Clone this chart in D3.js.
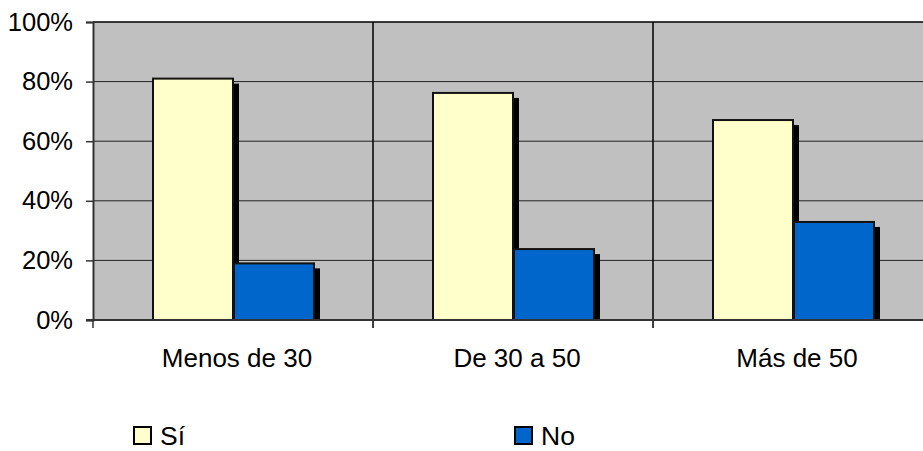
<!DOCTYPE html>
<html><head><meta charset="utf-8">
<script src="https://cdn.jsdelivr.net/npm/d3@7"></script>
<style>body{margin:0;background:#fff}svg{display:block}text{font-family:"Liberation Sans",Arial,sans-serif}</style>
</head><body>
<svg id="c" width="923" height="451"></svg>
<script>
const categories = ["Menos de 30", "De 30 a 50", "Más de 50"];
const seriesNames = ["Sí", "No"];
const siValues = [81, 76.2, 67.1];
const noValues = [19, 23.8, 32.9];
const yTicks = [0, 20, 40, 60, 80, 100];
const colors = ["#FFFFCC", "#0066CC"];

const svg = d3.select("#c");
const m = {l: 93, t: 22, r: 933, b: 320};
const x = d3.scaleBand().domain(categories).range([m.l, m.r]).paddingInner(0).paddingOuter(0);
const y = d3.scaleLinear().domain([0, 100]).range([m.b, m.t]);

// plot background
svg.append("rect").attr("x", m.l).attr("y", m.t).attr("width", m.r - m.l).attr("height", m.b - m.t).attr("fill", "#C0C0C0");

// horizontal gridlines
svg.append("g").selectAll("line").data(yTicks.filter(d => d > 0)).join("line")
  .attr("x1", m.l).attr("x2", m.r).attr("y1", d => y(d)).attr("y2", d => y(d))
  .attr("stroke", d => d === 100 ? "#000" : "#222").attr("stroke-width", d => d === 100 ? 1.5 : 1);

// vertical category gridlines
svg.append("g").selectAll("line").data(categories.slice(1)).join("line")
  .attr("x1", d => x(d)).attr("x2", d => x(d)).attr("y1", m.t).attr("y2", m.b + 8)
  .attr("stroke", "#000").attr("stroke-width", 1.5);

const data = categories.map((c, i) => [
  {cat: c, s: seriesNames[0], v: siValues[i], col: colors[0]},
  {cat: c, s: seriesNames[1], v: noValues[i], col: colors[1]}
]).flat();

const bw = 80;
const bx = d => x(d.cat) + 60 + (d.s === seriesNames[0] ? 0 : bw + 1);

// shadows
svg.append("g").selectAll("rect").data(data).join("rect")
  .attr("x", d => bx(d) + 6).attr("y", d => y(d.v) + 5)
  .attr("width", bw).attr("height", d => m.b - y(d.v) - 5)
  .attr("fill", "#000");

// bars
svg.append("g").selectAll("rect").data(data).join("rect")
  .attr("x", d => bx(d)).attr("y", d => y(d.v))
  .attr("width", bw).attr("height", d => m.b - y(d.v))
  .attr("fill", d => d.col).attr("stroke", "#111").attr("stroke-width", 2);

// axes
const yAxis = d3.axisLeft(y).tickValues(yTicks).tickFormat(d => d + "%").tickSize(7).tickPadding(13);
const gy = svg.append("g").attr("transform", `translate(${m.l},0)`).call(yAxis);
gy.select(".domain").attr("stroke", "#333").attr("stroke-width", 2);
gy.selectAll(".tick line").attr("stroke", "#333").attr("stroke-width", 1.5);
gy.selectAll("text").attr("font-size", 25.5).attr("fill", "#000").attr("font-family", "Liberation Sans, Arial, sans-serif");

svg.append("line").attr("x1", m.l - 7).attr("x2", m.r).attr("y1", m.b).attr("y2", m.b).attr("stroke", "#333").attr("stroke-width", 2);
svg.append("line").attr("x1", m.l).attr("x2", m.l).attr("y1", m.b).attr("y2", m.b + 8).attr("stroke", "#333").attr("stroke-width", 1.5);

// category labels
svg.append("g").selectAll("text").data(categories).join("text")
  .attr("x", d => x(d) + x.bandwidth() / 2 + 4).attr("y", 367)
  .attr("text-anchor", "middle").attr("font-size", 26).attr("fill", "#000").text(d => d);

// legend
const legX = [134, 515];
const lg = svg.append("g").selectAll("g").data(seriesNames).join("g")
  .attr("transform", (d, i) => `translate(${legX[i]},427)`);
lg.append("rect").attr("width", 17).attr("height", 17).attr("fill", (d, i) => colors[i]).attr("stroke", "#000").attr("stroke-width", 2);
lg.append("text").attr("x", 26).attr("y", 18).attr("font-size", 26.5).attr("fill", "#000").text(d => d);
</script>
</body></html>
